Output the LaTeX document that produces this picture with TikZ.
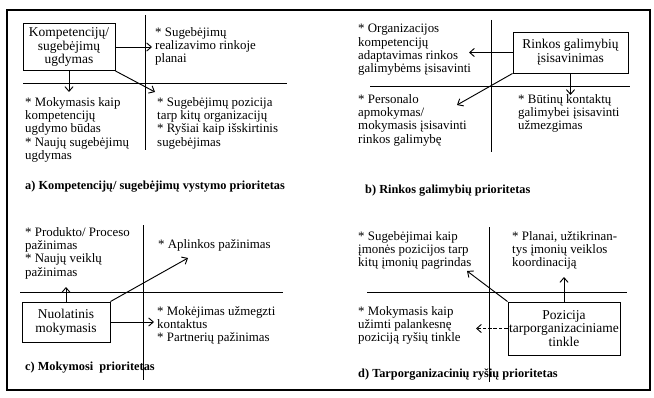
\documentclass[tikz,border=0pt]{standalone}
\usepackage{fontspec}
\setmainfont{Liberation Serif}
\usetikzlibrary{arrows.meta}

\tikzset{
  txt/.style={anchor=north west, inner sep=0pt, align=left,
    font=\fontsize{11}{11.4}\selectfont},
  capt/.style={anchor=west, inner sep=0pt, font=\bfseries\fontsize{10.5}{12}\selectfont},
  prio/.style={draw, line width=0.8pt, align=center, inner sep=1pt,
    font=\fontsize{11.5}{11.8}\selectfont},
  arr/.style={-{Straight Barb[length=4pt,width=7pt]}, line width=0.8pt},
  axis/.style={line width=0.7pt}
}

\begin{document}
\begin{tikzpicture}[x=0.03cm, y=-0.03cm]
  \useasboundingbox (0,0) rectangle (654,397);
  \draw[line width=1.2pt] (7,10) rectangle (650,390);

  % a) top left
  \draw[axis] (145,15) -- (145,150);
  \draw[axis] (23,83) -- (287,83);
  \node[prio, minimum width=2.76cm, minimum height=1.41cm] (kA) at (69,47)
    {Kompetencijų/\\sugebėjimų\\ugdymas};
  \node[txt] (aTR) at (155,27) {* Sugebėjimų\\realizavimo rinkoje\\planai};
  \node[txt] (aBL) at (25,97) {* Mokymasis kaip\\kompetencijų\\ugdymo būdas\\* Naujų sugebėjimų\\ugdymas};
  \node[txt] (aBR) at (157,97) {* Sugebėjimų pozicija\\tarp kitų organizacijų\\* Ryšiai kaip išskirtinis\\sugebėjimas};
  \node[capt] (capA) at (25,187) {a) Kompetencijų/ sugebėjimų vystymo prioritetas};
  \coordinate (aE) at (152,47);
  \coordinate (aS) at (69,92);
  \coordinate (aD) at (155,92);
  \draw[arr] (kA.east) -- (aE);
  \draw[arr] (kA.south) -- (aS);
  \draw[arr] (kA.south east) -- (aD);

  % b) top right
  \draw[axis] (491,20) -- (491,152);
  \draw[axis] (370,86) -- (630,86);
  \node[prio, minimum width=3.45cm, minimum height=1.23cm] (kB) at (570.5,52.5)
    {Rinkos galimybių\\įsisavinimas};
  \node[txt] (bTL) at (358,24) {* Organizacijos\\kompetencijų\\adaptavimas rinkos\\galimybėms įsisavinti};
  \node[txt] (bBL) at (358,94) {* Personalo\\apmokymas/\\mokymasis įsisavinti\\rinkos galimybę};
  \node[txt] (bBR) at (518,94) {* Būtinų kontaktų\\galimybei įsisavinti\\užmezgimas};
  \node[capt] (capB) at (365,191) {b) Rinkos galimybių prioritetas};
  \coordinate (bW) at (469,52.5);
  \coordinate (bS) at (570.5,95);
  \coordinate (bD) at (457,105);
  \draw[arr] (kB.west) -- (bW);
  \draw[arr] (kB.south) -- (bS);
  \draw[arr] (kB.south west) -- (bD);

  % c) bottom left
  \draw[axis] (143,225) -- (143,380);
  \draw[axis] (20,292) -- (283,292);
  \node[prio, minimum width=2.64cm, minimum height=1.2cm] (kC) at (66,322)
    {Nuolatinis\\mokymasis};
  \node[txt] (cTL) at (25,227) {* Produkto/ Proceso\\pažinimas\\* Naujų veiklų\\pažinimas};
  \node[txt] (cTR) at (158,239) {* Aplinkos pažinimas};
  \node[txt] (cBR) at (157,306) {* Mokėjimas užmegzti\\kontaktus\\* Partnerių pažinimas};
  \node[capt] (capC) at (25,368) {c) Mokymosi \ prioritetas};
  \coordinate (cN) at (66,287);
  \coordinate (cD) at (188,258);
  \coordinate (cE) at (154,322);
  \draw[arr] (kC.north) -- (cN);
  \draw[arr] (kC.north east) -- (cD);
  \draw[arr] (kC.east) -- (cE);

  % d) bottom right
  \draw[axis] (489,227) -- (489,382);
  \draw[axis] (367,292) -- (627,292);
  \node[prio, minimum width=3.24cm, minimum height=1.59cm] (kD) at (564,328.5)
    {Pozicija\\tarporganizaciniame\\tinkle};
  \node[txt] (dTL) at (358,231) {* Sugebėjimai kaip\\įmonės pozicijos tarp\\kitų įmonių pagrindas};
  \node[txt] (dTR) at (512,231) {* Planai, užtikrinan-\\tys įmonių veiklos\\koordinaciją};
  \node[txt] (dBL) at (358,306) {* Mokymasis kaip\\užimti palankesnę\\poziciją ryšių tinkle};
  \node[capt] (capD) at (358,375) {d) Tarporganizacinių ryšių prioritetas};
  \coordinate (dN) at (564,277);
  \coordinate (dD) at (467,271);
  \coordinate (dW) at (476,328.5);
  \draw[arr] (kD.north) -- (dN);
  \draw[arr] (kD.north west) -- (dD);
  \draw[arr, dash pattern=on 3pt off 1.5pt] (kD.west) -- (dW);
\end{tikzpicture}
\end{document}
